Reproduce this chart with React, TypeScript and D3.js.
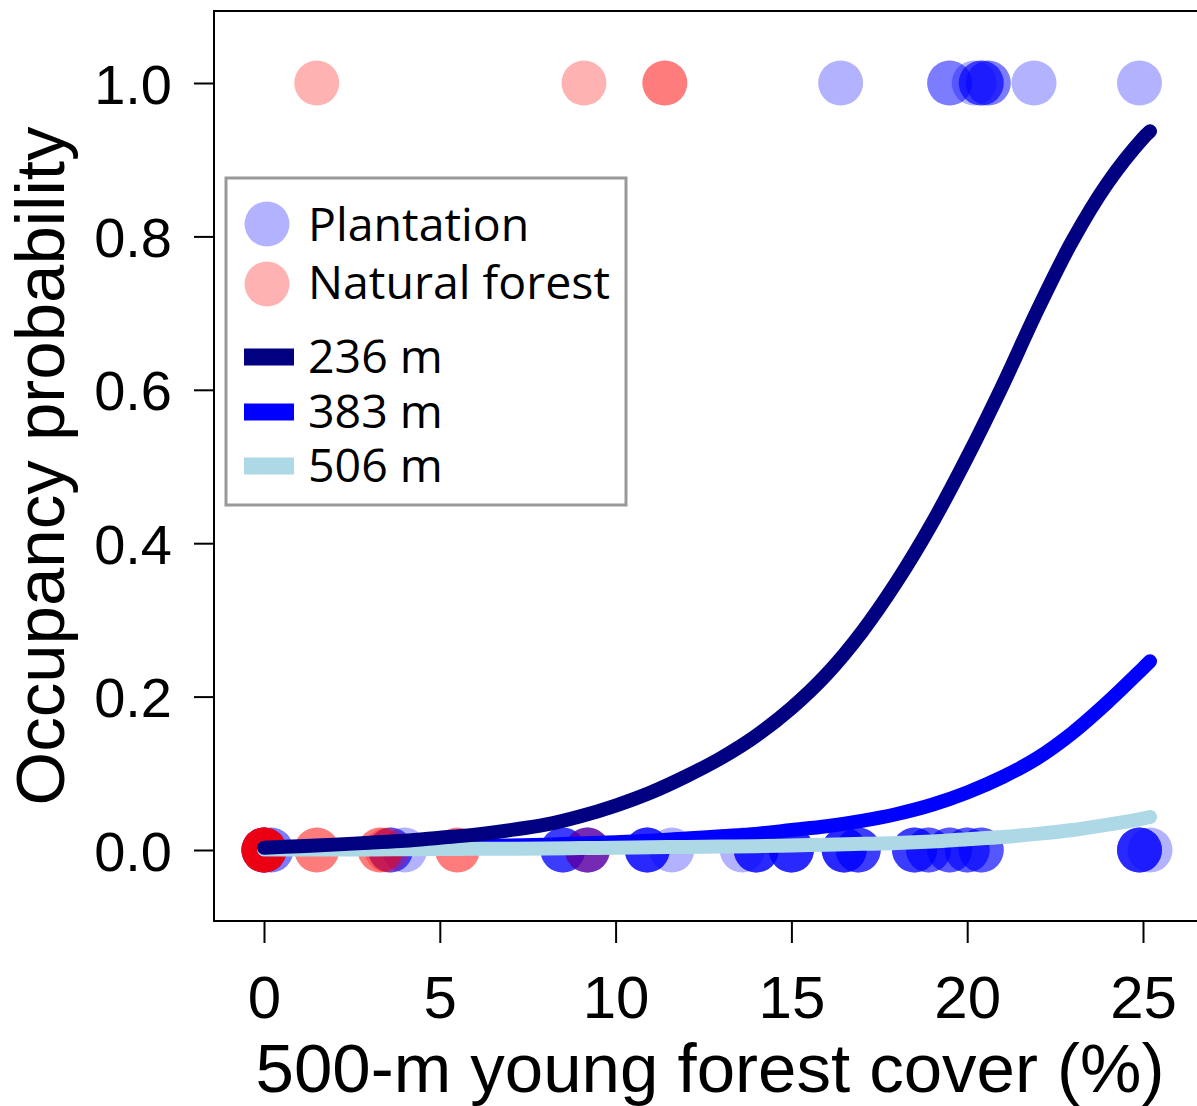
import React, { useEffect, useRef } from 'react';
import * as d3 from 'd3';

// fitted occupancy curves
const curveX = [0, 1, 2, 3, 4, 5, 6, 7, 8, 9, 10, 11, 12, 13, 14, 15, 16, 17, 18, 19, 20, 21, 22, 23, 24, 25, 25.2];
const prob236 = [0.003, 0.005, 0.007, 0.0095, 0.012, 0.016, 0.02, 0.026, 0.033, 0.044, 0.058, 0.075, 0.096, 0.12, 0.149, 0.185, 0.229, 0.284, 0.35, 0.426, 0.512, 0.605, 0.704, 0.795, 0.87, 0.928, 0.937];
const prob383 = [0.001, 0.0015, 0.002, 0.0025, 0.003, 0.004, 0.005, 0.006, 0.007, 0.0085, 0.01, 0.012, 0.015, 0.018, 0.021, 0.026, 0.031, 0.038, 0.047, 0.059, 0.075, 0.095, 0.12, 0.153, 0.193, 0.237, 0.246];
const prob506 = [0.0005, 0.0006, 0.0007, 0.0008, 0.001, 0.0012, 0.0015, 0.0017, 0.002, 0.0025, 0.003, 0.0035, 0.004, 0.0045, 0.005, 0.006, 0.007, 0.008, 0.009, 0.011, 0.014, 0.017, 0.021, 0.026, 0.033, 0.041, 0.043];

// observed detections (x = young forest cover %), repeated values = overlapping sites
const plantationAbsent = [
  0, 0, 0, 0, 0, 0.2, 0.2, 3.6, 3.6, 3.6, 4.0, 8.5, 8.5, 8.5, 8.5, 9.2, 9.2, 9.2, 9.2,
  10.9, 10.9, 10.9, 10.9, 10.9, 11.6, 13.6, 14.0, 14.0, 14.0, 14.0, 14.0,
  15.0, 15.0, 15.0, 15.0, 15.0, 16.5, 16.5, 16.5, 16.5, 16.5, 16.9, 16.9, 16.9, 16.9,
  18.5, 18.5, 18.5, 18.5, 18.9, 18.9, 18.9, 19.5, 19.5, 19.5, 20.0, 20.0, 20.0,
  20.4, 20.4, 20.4, 24.9, 24.9, 24.9, 24.9, 24.9, 25.2,
];
const plantationPresent = [16.4, 19.5, 19.5, 20.2, 20.4, 20.4, 20.4, 20.6, 20.6, 21.9, 24.9];
const naturalAbsent = [0, 0, 0, 0, 0, 0, 0, 1.5, 1.5, 3.3, 3.3, 3.5, 5.5, 5.5, 9.2];
const naturalPresent = [1.5, 9.1, 11.4, 11.4];

const xTicks = [0, 5, 10, 15, 20, 25];
const yTicks = [0, 0.2, 0.4, 0.6, 0.8, 1.0];

const seriesNames = ['236 m', '383 m', '506 m'];
const seriesColors = ['#000080', '#0000ff', '#add8e6'];

function App() {
  const ref = useRef(null);
  const width = 1197;
  const height = 1106;
  const frame = { left: 214, right: 1202, top: 11, bottom: 921 };

  useEffect(() => {
    drawChart();
  }, []);

  function drawChart() {
    const svg = d3.select(ref.current);
    svg.selectAll('*').remove();

    const x = d3.scaleLinear().domain([0, 25]).range([264, 1143]);
    const y = d3.scaleLinear().domain([0, 1]).range([850, 83]);

    const axisFont = 'Liberation Sans, Arial, sans-serif';
    const legendFont = '"Open Sans", "Noto Sans", sans-serif';

    // points
    const pts = svg.append('g');
    const addPoints = (vals, occ, fill) => {
      pts.selectAll(null)
        .data(vals)
        .enter()
        .append('circle')
        .attr('cx', (d) => x(d))
        .attr('cy', y(occ))
        .attr('r', 22.5)
        .style('fill', fill);
    };
    addPoints(plantationAbsent, 0, 'rgba(0,0,255,0.3)');
    addPoints(plantationPresent, 1, 'rgba(0,0,255,0.3)');
    addPoints(naturalAbsent, 0, 'rgba(255,0,0,0.3)');
    addPoints(naturalPresent, 1, 'rgba(255,0,0,0.3)');

    // curves
    const line = d3.line()
      .x((d) => x(d[0]))
      .y((d) => y(d[1]))
      .curve(d3.curveCatmullRom.alpha(0.5));
    const curves = [prob236, prob383, prob506];
    [1, 2, 0].forEach((i) => {
      svg.append('path')
        .attr('d', line(curveX.map((v, j) => [v, curves[i][j]])))
        .style('fill', 'none')
        .style('stroke', seriesColors[i])
        .style('stroke-width', 14)
        .style('stroke-linecap', 'round')
        .style('stroke-linejoin', 'round');
    });

    // frame
    svg.append('rect')
      .attr('x', frame.left)
      .attr('y', frame.top)
      .attr('width', frame.right - frame.left)
      .attr('height', frame.bottom - frame.top)
      .style('fill', 'none')
      .style('stroke', '#000')
      .style('stroke-width', 2);

    // y axis
    const yAxis = svg.append('g')
      .attr('transform', `translate(${frame.left},0)`)
      .call(d3.axisLeft(y).tickValues(yTicks).tickSize(20).tickPadding(22).tickFormat(d3.format('.1f')));
    yAxis.select('.domain').remove();
    yAxis.selectAll('line').style('stroke', '#000').style('stroke-width', 2);
    yAxis.selectAll('text')
      .style('font-family', axisFont)
      .style('font-size', '56px')
      .style('fill', '#000')
      .attr('dy', '0.36em');

    // x axis
    const xAxis = svg.append('g')
      .attr('transform', `translate(0,${frame.bottom})`)
      .call(d3.axisBottom(x).tickValues(xTicks).tickSize(22).tickFormat(d3.format('d')));
    xAxis.select('.domain').remove();
    xAxis.selectAll('line').style('stroke', '#000').style('stroke-width', 2);
    xAxis.selectAll('text')
      .style('font-family', axisFont)
      .style('font-size', '60px')
      .style('fill', '#000')
      .attr('y', 97)
      .attr('dy', 0);

    // axis titles
    svg.append('text')
      .attr('x', (frame.left + frame.right) / 2 + 2)
      .attr('y', 1092)
      .attr('text-anchor', 'middle')
      .style('font-family', axisFont)
      .style('font-size', '69px')
      .text('500-m young forest cover (%)');

    svg.append('text')
      .attr('transform', `translate(64,${(frame.top + frame.bottom) / 2}) rotate(-90)`)
      .attr('text-anchor', 'middle')
      .style('font-family', axisFont)
      .style('font-size', '69px')
      .text('Occupancy probability');

    // legend
    const lg = svg.append('g');
    lg.append('rect')
      .attr('x', 226)
      .attr('y', 178)
      .attr('width', 400)
      .attr('height', 327)
      .style('fill', '#fff')
      .style('stroke', '#999')
      .style('stroke-width', 3);

    const dotItems = [
      { label: 'Plantation', fill: 'rgba(0,0,255,0.3)', cy: 224, base: 241 },
      { label: 'Natural forest', fill: 'rgba(255,0,0,0.3)', cy: 284, base: 299 },
    ];
    dotItems.forEach((d) => {
      lg.append('circle').attr('cx', 267).attr('cy', d.cy).attr('r', 22.5).style('fill', d.fill);
      lg.append('text')
        .attr('x', 308)
        .attr('y', d.base)
        .style('font-family', legendFont)
        .style('font-size', '46.5px')
        .style('font-weight', 500)
        .text(d.label);
    });

    const lineRows = [357, 412, 466];
    seriesNames.forEach((name, i) => {
      lg.append('rect')
        .attr('x', 244)
        .attr('y', lineRows[i] - 8.5)
        .attr('width', 50)
        .attr('height', 17)
        .style('fill', seriesColors[i]);
      lg.append('text')
        .attr('x', 308)
        .attr('y', lineRows[i] + 16)
        .style('font-family', legendFont)
        .style('font-size', '46.5px')
        .style('font-weight', 500)
        .text(name);
    });
  }

  return (
    <svg
      ref={ref}
      width={width}
      height={height}
      style={{ position: 'absolute', left: 0, top: 0, background: '#fff' }}
    />
  );
}

export default App;
